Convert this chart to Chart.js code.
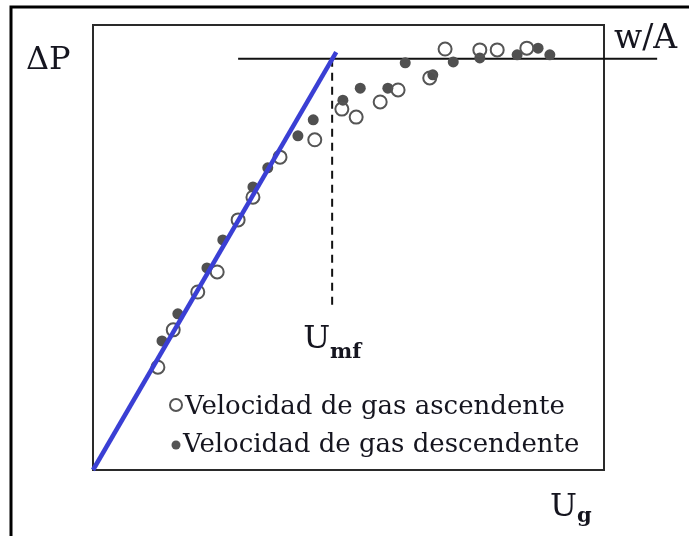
<!DOCTYPE html>
<html>
<head>
<meta charset="utf-8">
<script src="https://cdn.jsdelivr.net/npm/chart.js@4/dist/chart.umd.min.js"></script>
<style>
html,body{margin:0;padding:0;background:#fff;}
#wrap{width:689px;height:536px;}
</style>
</head>
<body>
<div id="wrap"><canvas id="c" width="689" height="536"></canvas></div>
<script>
// Ascending gas velocity (open circles): Ug, ΔP (relative units 0-100)
const ascX = [12.7, 15.7, 20.5, 24.3, 28.4, 31.3, 36.6, 43.4, 48.7, 51.5, 56.2, 59.7, 65.9, 68.9, 75.7, 79.1, 84.9];
const ascY = [23.1, 31.5, 40.0, 44.5, 56.2, 61.3, 70.3, 74.2, 81.1, 79.3, 82.7, 85.4, 88.1, 94.6, 94.4, 94.4, 94.8];
// Descending gas velocity (filled dots)
const descX = [13.5, 16.6, 22.3, 25.4, 31.3, 34.2, 40.1, 43.1, 48.9, 52.3, 57.7, 61.1, 66.5, 70.5, 75.7, 83.0, 87.1, 89.4];
const descY = [29.0, 35.1, 45.4, 51.7, 63.6, 67.9, 75.1, 78.7, 83.1, 85.8, 85.8, 91.5, 88.8, 91.7, 92.6, 93.3, 94.8, 93.3];
// Fixed-bed straight line (blue)
const bedLineX = [0, 47.6];
const bedLineY = [0, 93.9];
// w/A plateau line
const wAX = [28.4, 110.4];
const wAY = [92.4, 92.4];
// Umf marker (dashed)
const umfX = [46.8, 46.8];
const umfY = [92.4, 36.0];

const legendLabels = ["Velocidad de gas ascendente", "Velocidad de gas descendente"];
const axisLabels = {y: "ΔP", plateau: "w/A", umf: ["U", "mf"], x: ["U", "g"]};

const pts = (xs, ys) => xs.map((x, i) => ({x: x, y: ys[i]}));

const SERIF = '"DejaVu Serif", "Liberation Serif", serif';
const TXT = '#15151f';

const decor = {
  id: 'decor',
  beforeDraw(chart) {
    const ctx = chart.ctx;
    ctx.save();
    ctx.fillStyle = '#fff';
    ctx.fillRect(0, 0, chart.width, chart.height);
    // outer frame (top & left)
    ctx.strokeStyle = '#000';
    ctx.lineWidth = 3;
    ctx.beginPath();
    ctx.moveTo(11, chart.height + 2);
    ctx.lineTo(11, 7);
    ctx.lineTo(chart.width + 2, 7);
    ctx.stroke();
    // plot box
    const a = chart.chartArea;
    ctx.strokeStyle = '#2a2a2a';
    ctx.lineWidth = 2;
    ctx.strokeRect(a.left, a.top, a.right - a.left, a.bottom - a.top);
    ctx.restore();
  },
  afterDraw(chart) {
    const ctx = chart.ctx;
    ctx.save();
    ctx.fillStyle = TXT;
    ctx.textBaseline = 'alphabetic';
    ctx.textAlign = 'left';
    // ΔP
    ctx.font = '32px ' + SERIF;
    ctx.fillText(axisLabels.y, 26, 69);
    // w/A
    ctx.font = '33px ' + SERIF;
    ctx.fillText(axisLabels.plateau, 614, 48);
    // Umf
    const xs = chart.scales.x;
    const ux = xs.getPixelForValue(umfX[0]);
    ctx.font = '32px ' + SERIF;
    ctx.fillText(axisLabels.umf[0], ux - 29, 348);
    let w = ctx.measureText(axisLabels.umf[0]).width;
    ctx.font = 'bold 21px ' + SERIF;
    ctx.fillText(axisLabels.umf[1], ux - 29 + w, 358);
    // Ug
    ctx.font = '32px ' + SERIF;
    ctx.fillText(axisLabels.x[0], 550, 516);
    w = ctx.measureText(axisLabels.x[0]).width;
    ctx.font = 'bold 21px ' + SERIF;
    ctx.fillText(axisLabels.x[1], 550 + w, 522);
    // legend
    ctx.font = '26px ' + SERIF;
    ctx.fillText(legendLabels[0], 185, 414);
    ctx.fillText(legendLabels[1], 183, 452);
    ctx.strokeStyle = '#555';
    ctx.lineWidth = 2;
    ctx.beginPath();
    ctx.arc(176, 405, 6, 0, Math.PI * 2);
    ctx.stroke();
    ctx.fillStyle = '#555';
    ctx.beginPath();
    ctx.arc(176, 445, 4.5, 0, Math.PI * 2);
    ctx.fill();
    ctx.restore();
  }
};

new Chart(document.getElementById('c'), {
  type: 'scatter',
  data: {
    datasets: [
      {
        label: 'bed', type: 'line', data: pts(bedLineX, bedLineY),
        borderColor: '#3a3fd4', borderWidth: 4.5, pointRadius: 0, fill: false, order: 0, clip: false
      },
      {
        label: 'wA', type: 'line', data: pts(wAX, wAY),
        borderColor: '#111', borderWidth: 2, pointRadius: 0, fill: false, order: 3, clip: false
      },
      {
        label: 'umf', type: 'line', data: pts(umfX, umfY),
        borderColor: '#111', borderWidth: 2, borderDash: [8, 6], pointRadius: 0, fill: false, order: 3
      },
      {
        label: legendLabels[1], data: pts(descX, descY),
        backgroundColor: '#505050', borderWidth: 0, pointRadius: 5.5, order: 2
      },
      {
        label: legendLabels[0], data: pts(ascX, ascY),
        backgroundColor: 'rgba(0,0,0,0)', borderColor: '#555', borderWidth: 2, pointRadius: 6.5, order: 1
      }
    ]
  },
  options: {
    responsive: false,
    devicePixelRatio: 1,
    animation: false,
    layout: {padding: {left: 93, top: 25, right: 85, bottom: 66}},
    plugins: {legend: {display: false}, tooltip: {enabled: false}},
    scales: {
      x: {type: 'linear', min: 0, max: 100, display: false},
      y: {type: 'linear', min: 0, max: 100, display: false}
    }
  },
  plugins: [decor]
});
</script>
</body>
</html>
